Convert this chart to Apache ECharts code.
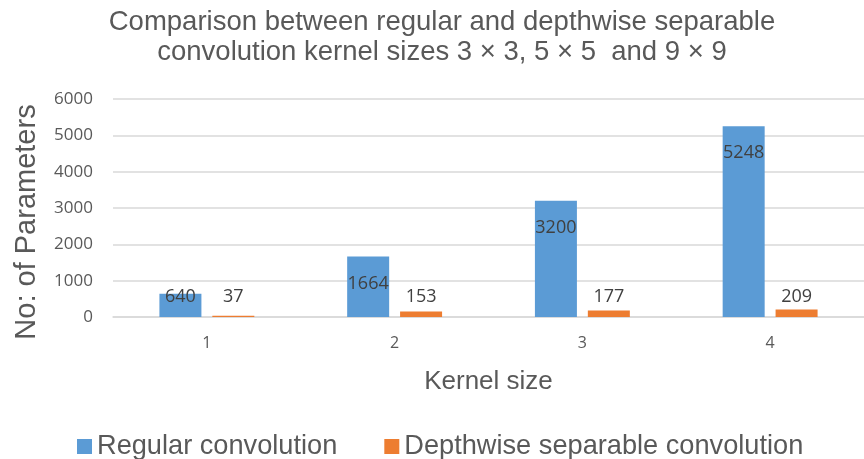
<!DOCTYPE html>
<html>
<head>
<meta charset="utf-8">
<script src="https://cdn.jsdelivr.net/npm/echarts@6/dist/echarts.min.js"></script>
<style>
  html, body { margin: 0; padding: 0; background: #fff; }
  #chart { width: 864px; height: 459px; }
</style>
</head>
<body>
<div id="chart"></div>
<script>
// Kernel-size categories and parameter counts per convolution type
const categories = ['1', '2', '3', '4'];
const regularConv = [640, 1664, 3200, 5248];
const depthwiseConv = [37, 153, 177, 209];
const yTicks = { min: 0, max: 6000, interval: 1000 };

const titleText = 'Comparison between regular and depthwise separable\nconvolution kernel sizes 3 × 3, 5 × 5  and 9 × 9';
const seriesNames = ['Regular convolution', 'Depthwise separable convolution'];

const labelFont = '"Open Sans", "Noto Sans", sans-serif';
const textFont = '"Liberation Sans", Arial, sans-serif';

// Short bars cannot hold their label inside the top, so those sit near the baseline
const lowLabel = { position: 'insideBottom', distance: 11 };
const regularData = regularConv.map(v => v < 1000 ? { value: v, label: lowLabel } : v);

const chart = echarts.init(document.getElementById('chart'), null, { renderer: 'canvas' });
chart.setOption({
  animation: false,
  backgroundColor: '#ffffff',
  title: {
    text: titleText,
    left: 442,
    top: 7,
    textAlign: 'center',
    padding: 0,
    textStyle: {
      fontFamily: textFont,
      fontSize: 27.5,
      fontWeight: 'normal',
      color: '#595959',
      lineHeight: 30
    }
  },
  legend: {
    data: seriesNames,
    left: 77,
    top: 433,
    padding: 0,
    icon: 'rect',
    itemWidth: 15,
    itemHeight: 15,
    itemGap: 47,
    textStyle: { fontFamily: textFont, fontSize: 27.2, color: '#595959' }
  },
  grid: { left: 113, top: 99, width: 758, height: 218 },
  xAxis: {
    type: 'category',
    data: categories,
    name: 'Kernel size',
    nameLocation: 'middle',
    nameGap: 52,
    nameTextStyle: { fontFamily: textFont, fontSize: 26, color: '#595959' },
    axisTick: { show: false },
    axisLine: { lineStyle: { color: '#d9d9d9', width: 1.5 } },
    axisLabel: { margin: 18, fontFamily: labelFont, fontSize: 16, color: '#595959' }
  },
  yAxis: {
    type: 'value',
    min: yTicks.min,
    max: yTicks.max,
    interval: yTicks.interval,
    name: 'No: of Parameters',
    nameLocation: 'middle',
    nameRotate: 90,
    nameGap: 72,
    nameTextStyle: { fontFamily: textFont, fontSize: 29, color: '#595959', padding: [0, 28, 0, 0] },
    axisLine: { show: false },
    axisTick: { show: false },
    splitLine: { lineStyle: { color: '#d9d9d9', width: 1.5 } },
    axisLabel: {
      margin: 20,
      fontFamily: labelFont,
      fontSize: 17,
      color: '#595959',
      formatter: v => String(v)
    }
  },
  series: [
    {
      name: seriesNames[0],
      type: 'bar',
      data: regularData,
      barWidth: 42,
      barGap: '26%',
      itemStyle: { color: '#5b9bd5' },
      label: {
        show: true,
        position: 'insideTop',
        distance: 18,
        fontFamily: labelFont,
        fontSize: 18,
        color: '#404040'
      }
    },
    {
      name: seriesNames[1],
      type: 'bar',
      data: depthwiseConv,
      barWidth: 42,
      itemStyle: { color: '#ed7d31' },
      label: {
        show: true,
        position: 'insideBottom',
        distance: 11,
        fontFamily: labelFont,
        fontSize: 18,
        color: '#404040'
      }
    }
  ]
});
</script>
</body>
</html>
